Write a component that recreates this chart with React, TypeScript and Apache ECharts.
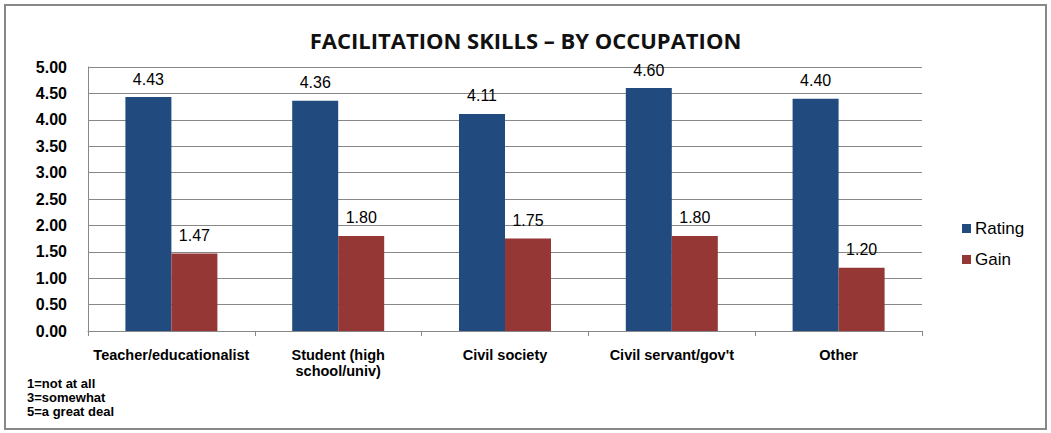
import React, { useEffect, useRef } from "react";
import * as echarts from "echarts";

const categories = [
  "Teacher/educationalist",
  "Student (high\nschool/univ)",
  "Civil society",
  "Civil servant/gov't",
  "Other",
];
const ratingValues = [4.43, 4.36, 4.11, 4.6, 4.4];
const gainValues = [1.47, 1.8, 1.75, 1.8, 1.2];
const titleText = "FACILITATION SKILLS \u2013 BY OCCUPATION";
const noteText = "1=not at all\n3=somewhat\n5=a great deal";

export default function App() {
  const ref = useRef<HTMLDivElement>(null);
  useEffect(() => {
    if (!ref.current) return;
    const chart = echarts.init(ref.current, undefined, { renderer: "svg" });
    const labelStyle = {
      show: true,
      position: "top" as const,
      distance: 10,
      fontFamily: "Liberation Sans, Arial, sans-serif",
      fontSize: 16,
      color: "#000",
      formatter: (p: any) => Number(p.value).toFixed(2),
    };
    chart.setOption({
      animation: false,
      backgroundColor: "#fff",
      title: {
        text: titleText,
        left: "center",
        top: 24,
        textStyle: {
          fontFamily: "Open Sans, sans-serif",
          fontSize: 22,
          fontWeight: "bold",
          color: "#111",
        },
      },
      legend: {
        orient: "vertical",
        left: 957,
        top: 215,
        itemGap: 14,
        itemWidth: 9,
        itemHeight: 9,
        icon: "rect",
        textStyle: {
          fontFamily: "Liberation Sans, Arial, sans-serif",
          fontSize: 17,
          color: "#000",
          padding: [0, 0, 0, -1],
        },
        data: ["Rating", "Gain"],
      },
      grid: { left: 88, right: 129, top: 67, bottom: 102 },
      xAxis: {
        type: "category",
        data: categories,
        axisLine: { lineStyle: { color: "#888", width: 1 } },
        axisTick: { show: true, length: 5, lineStyle: { color: "#888" } },
        axisLabel: {
          fontFamily: "Liberation Sans, Arial, sans-serif",
          fontSize: 14.5,
          fontWeight: "bold",
          color: "#000",
          margin: 16,
          lineHeight: 16,
          interval: 0,
        },
      },
      yAxis: {
        type: "value",
        min: 0,
        max: 5,
        interval: 0.5,
        axisLine: { show: true, lineStyle: { color: "#888" } },
        axisTick: { show: false },
        splitLine: { lineStyle: { color: "#888", width: 1 } },
        axisLabel: {
          fontFamily: "Liberation Sans, Arial, sans-serif",
          fontSize: 16,
          fontWeight: "bold",
          color: "#000",
          margin: 21,
          formatter: (v: number) => v.toFixed(2),
        },
      },
      series: [
        {
          name: "Rating",
          type: "bar",
          data: ratingValues,
          itemStyle: { color: "#214a7e" },
          barWidth: 46,
          barGap: "0%",
          label: labelStyle,
        },
        {
          name: "Gain",
          type: "bar",
          data: gainValues,
          itemStyle: { color: "#943735" },
          barWidth: 46,
          label: labelStyle,
        },
      ],
      graphic: [
        {
          type: "rect",
          shape: { x: 5, y: 5, width: 1041, height: 424 },
          style: { fill: "none", stroke: "#888", lineWidth: 2 },
          silent: true,
        },
        {
          type: "text",
          left: 27,
          top: 376,
          style: {
            text: noteText,
            fontFamily: "Liberation Sans, Arial, sans-serif",
            fontSize: 13,
            fontWeight: "bold",
            lineHeight: 14,
            fill: "#000",
          },
        },
      ],
    });
    return () => chart.dispose();
  }, []);
  return (
    <div
      ref={ref}
      style={{ position: "fixed", left: 0, top: 0, width: 1051, height: 433 }}
    />
  );
}
